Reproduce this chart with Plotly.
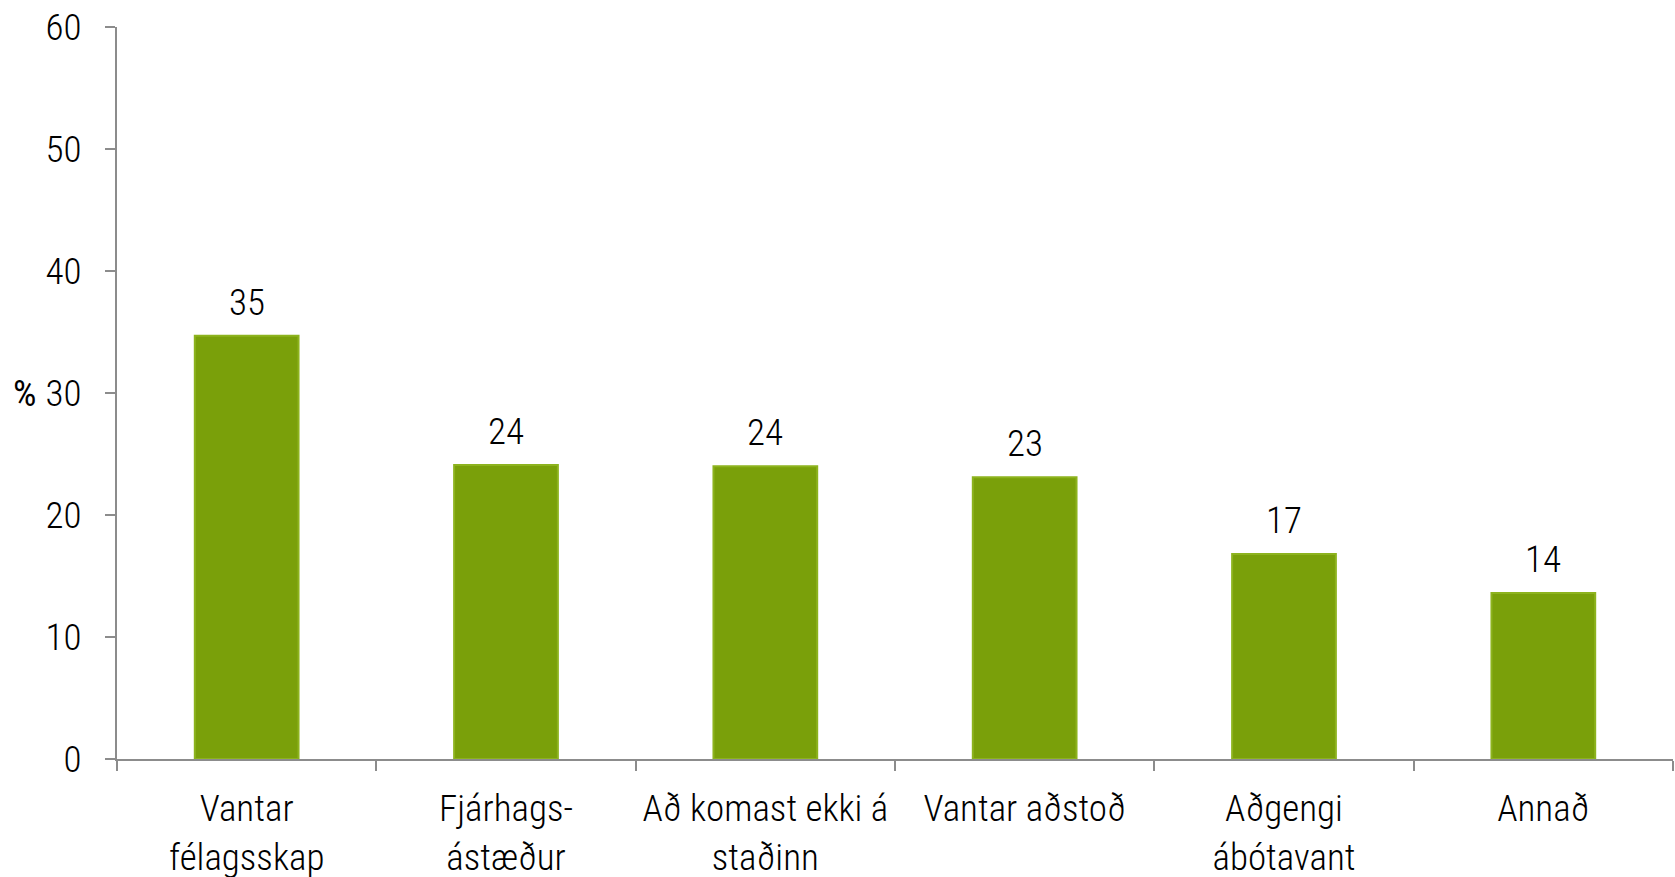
import plotly.graph_objects as go

categories = ["Vantar<br>félagsskap", "Fjárhags-<br>ástæður", "Að komast ekki á<br>staðinn",
              "Vantar aðstoð", "Aðgengi<br>ábótavant", "Annað"]
values = [34.7, 24.1, 24.0, 23.1, 16.8, 13.6]
labels = ["35", "24", "24", "23", "17", "14"]
y_ticks = [0, 10, 20, 30, 40, 50, 60]

FONT = "Liberation Sans Narrow, Arial Narrow, Roboto Condensed, sans-serif"
FS = 37
WT = 300

fig = go.Figure()
fig.add_trace(go.Bar(
    x=categories, y=values,
    marker=dict(color="#7AA00A", line=dict(color="#8DB31E", width=2)),
    width=0.4,
))
for c, v, t in zip(categories, values, labels):
    fig.add_annotation(x=c, y=v, text=t, showarrow=False, yanchor="bottom", yshift=10,
                       font=dict(size=FS, family=FONT, color="#000000", weight=WT))

fig.update_layout(
    width=1675, height=877,
    margin=dict(l=117, r=2, t=27, b=118, autoexpand=False),
    plot_bgcolor="white", paper_bgcolor="white",
    font=dict(family=FONT, size=FS, color="#000000", weight=WT),
    showlegend=False,
)
fig.update_yaxes(range=[0, 60], tickvals=y_ticks, showgrid=False, zeroline=False,
                 showline=True, linecolor="#8C8C8C", linewidth=2,
                 ticks="outside", ticklen=10, tickcolor="#8C8C8C", tickwidth=2,
                 ticklabelstandoff=16, automargin=False,
                 tickfont=dict(size=FS, family=FONT, weight=WT))
fig.update_xaxes(showgrid=False, showline=True, linecolor="#8C8C8C", linewidth=2,
                 ticks="outside", ticklen=10, tickcolor="#8C8C8C", tickwidth=2,
                 tickson="boundaries", ticklabelstandoff=16, automargin=False,
                 tickfont=dict(size=FS, family=FONT, weight=WT))
fig.add_annotation(text="%", x=0, xref="paper", xanchor="left", xshift=-106,
                   y=30, yref="y", showarrow=False,
                   font=dict(size=FS, family=FONT, weight=400))

fig.write_html("out.html", config={"displayModeBar": False},
               post_script="document.body.style.margin='0';document.body.style.padding='0';")
